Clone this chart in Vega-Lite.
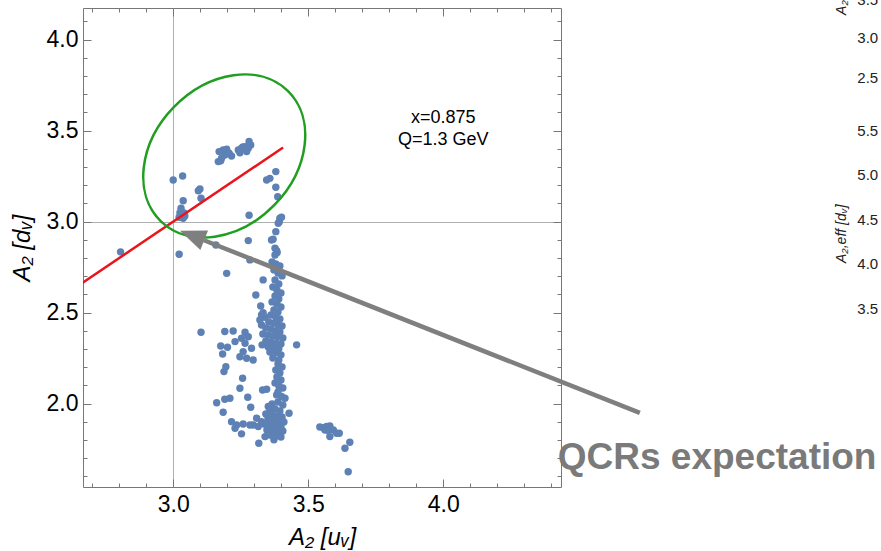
{
  "$schema": "https://vega.github.io/schema/vega-lite/v6.json",
  "width": 478,
  "height": 479,
  "autosize": "none",
  "padding": {"left": 83, "top": 8, "right": 320, "bottom": 64},
  "background": "white",
  "config": {
    "font": "Liberation Sans",
    "view": {"stroke": "#777777", "strokeWidth": 1}
  },
  "resolve": {"axis": {"x": "independent", "y": "independent"}},
  "datasets": {
    "pts": [
      {"u": 3.170, "d": 3.385}, {"u": 3.185, "d": 3.394}, {"u": 3.198, "d": 3.398}, {"u": 3.207, "d": 3.376},
      {"u": 3.216, "d": 3.361}, {"u": 3.191, "d": 3.366}, {"u": 3.179, "d": 3.348}, {"u": 3.167, "d": 3.330},
      {"u": 3.176, "d": 3.335}, {"u": 3.199, "d": 3.383}, {"u": 3.241, "d": 3.394}, {"u": 3.253, "d": 3.403},
      {"u": 3.266, "d": 3.412}, {"u": 3.281, "d": 3.440}, {"u": 3.287, "d": 3.421}, {"u": 3.272, "d": 3.385},
      {"u": 3.278, "d": 3.403}, {"u": 3.247, "d": 3.379}, {"u": 3.258, "d": 3.410},
      {"u": 3.000, "d": 3.229}, {"u": 3.035, "d": 3.251}, {"u": 3.093, "d": 3.170}, {"u": 3.099, "d": 3.180},
      {"u": 3.103, "d": 3.129}, {"u": 3.037, "d": 3.115}, {"u": 3.029, "d": 3.074}, {"u": 3.025, "d": 3.049},
      {"u": 3.031, "d": 3.037}, {"u": 3.043, "d": 3.031}, {"u": 3.037, "d": 3.019}, {"u": 3.022, "d": 3.024},
      {"u": 3.040, "d": 3.048}, {"u": 2.805, "d": 2.834}, {"u": 3.022, "d": 2.821}, {"u": 3.281, "d": 3.035},
      {"u": 3.278, "d": 2.896}, {"u": 3.158, "d": 2.872},
      {"u": 3.346, "d": 3.229}, {"u": 3.358, "d": 3.238}, {"u": 3.380, "d": 3.275}, {"u": 3.380, "d": 3.189},
      {"u": 3.387, "d": 3.137}, {"u": 3.395, "d": 3.019}, {"u": 3.401, "d": 3.024}, {"u": 3.393, "d": 3.000},
      {"u": 3.389, "d": 2.991}, {"u": 3.380, "d": 2.945}, {"u": 3.370, "d": 2.903}, {"u": 3.364, "d": 2.899},
      {"u": 3.377, "d": 2.854}, {"u": 3.383, "d": 2.841}, {"u": 3.385, "d": 2.830}, {"u": 3.377, "d": 2.817},
      {"u": 3.284, "d": 2.790}, {"u": 3.198, "d": 2.716}, {"u": 3.333, "d": 2.680}, {"u": 3.306, "d": 2.597},
      {"u": 3.324, "d": 2.537}, {"u": 3.327, "d": 2.487}, {"u": 3.340, "d": 2.475}, {"u": 3.333, "d": 2.500},
      {"u": 3.321, "d": 2.460}, {"u": 3.327, "d": 2.432},
      {"u": 3.366, "d": 2.779}, {"u": 3.380, "d": 2.768}, {"u": 3.395, "d": 2.757}, {"u": 3.373, "d": 2.735},
      {"u": 3.388, "d": 2.718}, {"u": 3.403, "d": 2.702}, {"u": 3.377, "d": 2.680}, {"u": 3.391, "d": 2.658},
      {"u": 3.369, "d": 2.641}, {"u": 3.384, "d": 2.625}, {"u": 3.399, "d": 2.608}, {"u": 3.377, "d": 2.592},
      {"u": 3.391, "d": 2.575}, {"u": 3.366, "d": 2.559}, {"u": 3.384, "d": 2.548}, {"u": 3.399, "d": 2.531},
      {"u": 3.373, "d": 2.515}, {"u": 3.388, "d": 2.504}, {"u": 3.362, "d": 2.487}, {"u": 3.380, "d": 2.476},
      {"u": 3.395, "d": 2.465}, {"u": 3.354, "d": 2.449}, {"u": 3.373, "d": 2.443}, {"u": 3.388, "d": 2.432},
      {"u": 3.403, "d": 2.427}, {"u": 3.343, "d": 2.416}, {"u": 3.362, "d": 2.410}, {"u": 3.380, "d": 2.399},
      {"u": 3.395, "d": 2.394}, {"u": 3.332, "d": 2.383}, {"u": 3.351, "d": 2.377}, {"u": 3.369, "d": 2.372},
      {"u": 3.388, "d": 2.366}, {"u": 3.406, "d": 2.361}, {"u": 3.343, "d": 2.344}, {"u": 3.362, "d": 2.339},
      {"u": 3.380, "d": 2.333}, {"u": 3.399, "d": 2.328}, {"u": 3.329, "d": 2.323}, {"u": 3.351, "d": 2.312},
      {"u": 3.373, "d": 2.306}, {"u": 3.391, "d": 2.301}, {"u": 3.358, "d": 2.284}, {"u": 3.380, "d": 2.279},
      {"u": 3.399, "d": 2.268}, {"u": 3.369, "d": 2.251}, {"u": 3.391, "d": 2.240},
      {"u": 3.103, "d": 2.392}, {"u": 3.191, "d": 2.396}, {"u": 3.222, "d": 2.399}, {"u": 3.266, "d": 2.392},
      {"u": 3.176, "d": 2.317}, {"u": 3.201, "d": 2.310}, {"u": 3.183, "d": 2.273}, {"u": 3.229, "d": 2.341},
      {"u": 3.253, "d": 2.359}, {"u": 3.278, "d": 2.368}, {"u": 3.266, "d": 2.332}, {"u": 3.290, "d": 2.304},
      {"u": 3.259, "d": 2.286}, {"u": 3.247, "d": 2.258}, {"u": 3.272, "d": 2.249}, {"u": 3.296, "d": 2.240},
      {"u": 3.457, "d": 2.323},
      {"u": 3.388, "d": 2.218}, {"u": 3.403, "d": 2.202}, {"u": 3.380, "d": 2.185}, {"u": 3.395, "d": 2.169},
      {"u": 3.384, "d": 2.147}, {"u": 3.399, "d": 2.130}, {"u": 3.377, "d": 2.114}, {"u": 3.391, "d": 2.097},
      {"u": 3.406, "d": 2.086},
      {"u": 3.195, "d": 2.203}, {"u": 3.188, "d": 2.176}, {"u": 3.257, "d": 2.140}, {"u": 3.247, "d": 2.085},
      {"u": 3.331, "d": 2.075}, {"u": 3.346, "d": 2.079}, {"u": 3.276, "d": 2.035}, {"u": 3.161, "d": 2.005},
      {"u": 3.191, "d": 2.024}, {"u": 3.210, "d": 2.030}, {"u": 3.185, "d": 1.953}, {"u": 3.287, "d": 1.980},
      {"u": 3.429, "d": 1.947},
      {"u": 3.383, "d": 2.048}, {"u": 3.401, "d": 2.039}, {"u": 3.414, "d": 2.030}, {"u": 3.388, "d": 2.064},
      {"u": 3.352, "d": 1.984}, {"u": 3.366, "d": 1.998}, {"u": 3.388, "d": 2.009}, {"u": 3.406, "d": 1.993},
      {"u": 3.358, "d": 1.965}, {"u": 3.377, "d": 1.971}, {"u": 3.395, "d": 1.960}, {"u": 3.343, "d": 1.943},
      {"u": 3.366, "d": 1.938}, {"u": 3.384, "d": 1.932}, {"u": 3.403, "d": 1.927}, {"u": 3.351, "d": 1.916},
      {"u": 3.373, "d": 1.910}, {"u": 3.391, "d": 1.905}, {"u": 3.410, "d": 1.899}, {"u": 3.336, "d": 1.888},
      {"u": 3.358, "d": 1.883}, {"u": 3.380, "d": 1.877}, {"u": 3.399, "d": 1.872}, {"u": 3.347, "d": 1.855},
      {"u": 3.366, "d": 1.850}, {"u": 3.388, "d": 1.844}, {"u": 3.406, "d": 1.850}, {"u": 3.358, "d": 1.828},
      {"u": 3.380, "d": 1.822}, {"u": 3.399, "d": 1.817}, {"u": 3.373, "d": 1.801},
      {"u": 3.216, "d": 1.901}, {"u": 3.235, "d": 1.883}, {"u": 3.259, "d": 1.888}, {"u": 3.229, "d": 1.865},
      {"u": 3.253, "d": 1.834}, {"u": 3.296, "d": 1.883}, {"u": 3.309, "d": 1.920}, {"u": 3.327, "d": 1.901},
      {"u": 3.315, "d": 1.874}, {"u": 3.317, "d": 1.782}, {"u": 3.340, "d": 1.819}, {"u": 3.284, "d": 1.883},
      {"u": 3.556, "d": 1.868}, {"u": 3.568, "d": 1.874}, {"u": 3.580, "d": 1.877}, {"u": 3.562, "d": 1.855},
      {"u": 3.574, "d": 1.852}, {"u": 3.593, "d": 1.855}, {"u": 3.605, "d": 1.837}, {"u": 3.615, "d": 1.837},
      {"u": 3.580, "d": 1.819}, {"u": 3.636, "d": 1.755}, {"u": 3.654, "d": 1.788}, {"u": 3.648, "d": 1.626},
      {"u": 3.543, "d": 1.872}
    ],
    "diag": [{"u": 2.6, "d": 2.6}, {"u": 3.407, "d": 3.407}],
    "ring": [{"u": 3.189, "d": 3.361}],
    "shaft": [{"u": 4.728, "d": 1.949}, {"u": 3.114, "d": 2.898}],
    "head": [{"u": 3.070, "d": 2.924}],
    "notes": [
      {"u": 4.0, "d": 3.57, "t": "x=0.875"},
      {"u": 4.0, "d": 3.449, "t": "Q=1.3 GeV"}
    ],
    "callout": [{"u": 5.014, "d": 1.641, "t": "QCRs expectation"}],
    "sideTicks": [
      {"u": 5.572, "d": 4.218, "t": "3.5"},
      {"u": 5.572, "d": 4.009, "t": "3.0"},
      {"u": 5.572, "d": 3.790, "t": "2.5"},
      {"u": 5.572, "d": 3.498, "t": "5.5"},
      {"u": 5.572, "d": 3.256, "t": "5.0"},
      {"u": 5.572, "d": 3.009, "t": "4.5"},
      {"u": 5.572, "d": 2.768, "t": "4.0"},
      {"u": 5.572, "d": 2.520, "t": "3.5"}
    ],
    "sideTitles": [
      {"u": 5.491, "d": 4.136, "t": "A₂ [uᵥ]"},
      {"u": 5.491, "d": 2.773, "t": "A₂,eff [dᵥ]"}
    ]
  },
  "layer": [
    {
      "data": {"name": "pts"},
      "mark": {"type": "circle", "size": 55, "color": "#5e81b5", "opacity": 1},
      "encoding": {
        "x": {
          "field": "u", "type": "quantitative",
          "scale": {"domain": [2.666, 4.436], "nice": false, "zero": false},
          "axis": {
            "orient": "bottom",
            "values": [2.7, 2.8, 2.9, 3, 3.1, 3.2, 3.3, 3.4, 3.5, 3.6, 3.7, 3.8, 3.9, 4, 4.1, 4.2, 4.3, 4.4],
            "labelExpr": "abs(datum.value * 2 - round(datum.value * 2)) < 0.001 ? format(datum.value, '.1f') : ''",
            "labelFont": "Liberation Sans", "labelFontSize": 23, "labelColor": "#000000",
            "labelPadding": 14, "labelOverlap": false, "labelFlush": false,
            "tickSize": {"condition": {"test": "abs(datum.value * 2 - round(datum.value * 2)) < 0.001", "value": -8}, "value": -4},
            "tickColor": "#777777", "tickWidth": 1,
            "domain": false,
            "grid": true, "gridColor": "#b0b0b0", "gridWidth": 1,
            "gridOpacity": {"condition": {"test": "abs(datum.value - 3) < 0.001", "value": 1}, "value": 0},
            "title": "A₂ [uᵥ]", "titleFont": "Liberation Sans", "titleFontSize": 24,
            "titleFontWeight": "normal", "titleFontStyle": "italic", "titleColor": "#000000", "titlePadding": 5
          }
        },
        "y": {
          "field": "d", "type": "quantitative",
          "scale": {"domain": [1.542, 4.174], "nice": false, "zero": false},
          "axis": {
            "orient": "left",
            "values": [1.6, 1.7, 1.8, 1.9, 2, 2.1, 2.2, 2.3, 2.4, 2.5, 2.6, 2.7, 2.8, 2.9, 3, 3.1, 3.2, 3.3, 3.4, 3.5, 3.6, 3.7, 3.8, 3.9, 4, 4.1],
            "labelExpr": "abs(datum.value * 2 - round(datum.value * 2)) < 0.001 ? format(datum.value, '.1f') : ''",
            "labelFont": "Liberation Sans", "labelFontSize": 23, "labelColor": "#000000",
            "labelPadding": 13, "labelOverlap": false, "labelFlush": false,
            "tickSize": {"condition": {"test": "abs(datum.value * 2 - round(datum.value * 2)) < 0.001", "value": -8}, "value": -4},
            "tickColor": "#777777", "tickWidth": 1,
            "domain": false,
            "grid": true, "gridColor": "#b0b0b0", "gridWidth": 1,
            "gridOpacity": {"condition": {"test": "abs(datum.value - 3) < 0.001", "value": 1}, "value": 0},
            "title": "A₂ [dᵥ]", "titleFont": "Liberation Sans", "titleFontSize": 24,
            "titleFontWeight": "normal", "titleFontStyle": "italic", "titleColor": "#000000", "titlePadding": 12
          }
        }
      }
    },
    {
      "data": {"name": "diag"},
      "mark": {"type": "line", "color": "#e8151b", "strokeWidth": 2.5, "clip": true},
      "encoding": {
        "x": {
          "field": "u", "type": "quantitative",
          "scale": {"domain": [2.666, 4.436], "nice": false, "zero": false},
          "axis": {
            "orient": "top",
            "values": [2.7, 2.8, 2.9, 3, 3.1, 3.2, 3.3, 3.4, 3.5, 3.6, 3.7, 3.8, 3.9, 4, 4.1, 4.2, 4.3, 4.4],
            "labels": false, "domain": false, "grid": false, "title": null,
            "tickSize": {"condition": {"test": "abs(datum.value * 2 - round(datum.value * 2)) < 0.001", "value": -8}, "value": -4},
            "tickColor": "#777777", "tickWidth": 1
          }
        },
        "y": {
          "field": "d", "type": "quantitative",
          "scale": {"domain": [1.542, 4.174], "nice": false, "zero": false},
          "axis": {
            "orient": "right",
            "values": [1.6, 1.7, 1.8, 1.9, 2, 2.1, 2.2, 2.3, 2.4, 2.5, 2.6, 2.7, 2.8, 2.9, 3, 3.1, 3.2, 3.3, 3.4, 3.5, 3.6, 3.7, 3.8, 3.9, 4, 4.1],
            "labels": false, "domain": false, "grid": false, "title": null,
            "tickSize": {"condition": {"test": "abs(datum.value * 2 - round(datum.value * 2)) < 0.001", "value": -8}, "value": -4},
            "tickColor": "#777777", "tickWidth": 1
          }
        }
      }
    },
    {
      "data": {"name": "ring"},
      "mark": {
        "type": "point",
        "shape": "M -1 0 A 1 0.771 0 1 0 1 0 A 1 0.771 0 1 0 -1 0 Z",
        "filled": false, "color": "#1f9e1f", "strokeWidth": 2.5, "opacity": 1,
        "size": 33124, "angle": -45.7
      },
      "encoding": {
        "x": {"field": "u", "type": "quantitative", "scale": {"domain": [2.666, 4.436], "nice": false, "zero": false}, "axis": null},
        "y": {"field": "d", "type": "quantitative", "scale": {"domain": [1.542, 4.174], "nice": false, "zero": false}, "axis": null}
      }
    },
    {
      "data": {"name": "shaft"},
      "mark": {"type": "line", "color": "#7f7f7f", "strokeWidth": 4.5, "strokeCap": "butt"},
      "encoding": {
        "x": {"field": "u", "type": "quantitative", "scale": {"domain": [2.666, 4.436], "nice": false, "zero": false}, "axis": null},
        "y": {"field": "d", "type": "quantitative", "scale": {"domain": [1.542, 4.174], "nice": false, "zero": false}, "axis": null}
      }
    },
    {
      "data": {"name": "head"},
      "mark": {
        "type": "point",
        "shape": "M -1 0 L 1 -0.8 L 1 0.8 Z",
        "filled": true, "color": "#7f7f7f", "opacity": 1, "strokeWidth": 0,
        "size": 676, "angle": 21.6
      },
      "encoding": {
        "x": {"field": "u", "type": "quantitative", "scale": {"domain": [2.666, 4.436], "nice": false, "zero": false}, "axis": null},
        "y": {"field": "d", "type": "quantitative", "scale": {"domain": [1.542, 4.174], "nice": false, "zero": false}, "axis": null}
      }
    },
    {
      "data": {"name": "notes"},
      "mark": {"type": "text", "font": "Liberation Sans", "fontSize": 18, "color": "#000000", "align": "center", "baseline": "middle"},
      "encoding": {
        "x": {"field": "u", "type": "quantitative", "scale": {"domain": [2.666, 4.436], "nice": false, "zero": false}, "axis": null},
        "y": {"field": "d", "type": "quantitative", "scale": {"domain": [1.542, 4.174], "nice": false, "zero": false}, "axis": null},
        "text": {"field": "t"}
      }
    },
    {
      "data": {"name": "callout"},
      "mark": {"type": "text", "font": "Liberation Sans", "fontSize": 37, "fontWeight": "bold", "color": "#7a7a7a", "align": "center", "baseline": "alphabetic"},
      "encoding": {
        "x": {"field": "u", "type": "quantitative", "scale": {"domain": [2.666, 4.436], "nice": false, "zero": false}, "axis": null},
        "y": {"field": "d", "type": "quantitative", "scale": {"domain": [1.542, 4.174], "nice": false, "zero": false}, "axis": null},
        "text": {"field": "t"}
      }
    },
    {
      "data": {"name": "sideTicks"},
      "mark": {"type": "text", "font": "Liberation Sans", "fontSize": 15, "color": "#222222", "align": "center", "baseline": "middle"},
      "encoding": {
        "x": {"field": "u", "type": "quantitative", "scale": {"domain": [2.666, 4.436], "nice": false, "zero": false}, "axis": null},
        "y": {"field": "d", "type": "quantitative", "scale": {"domain": [1.542, 4.174], "nice": false, "zero": false}, "axis": null},
        "text": {"field": "t"}
      }
    },
    {
      "data": {"name": "sideTitles"},
      "mark": {"type": "text", "font": "Liberation Sans", "fontSize": 14, "fontStyle": "italic", "color": "#222222", "align": "left", "baseline": "alphabetic", "angle": 270},
      "encoding": {
        "x": {"field": "u", "type": "quantitative", "scale": {"domain": [2.666, 4.436], "nice": false, "zero": false}, "axis": null},
        "y": {"field": "d", "type": "quantitative", "scale": {"domain": [1.542, 4.174], "nice": false, "zero": false}, "axis": null},
        "text": {"field": "t"}
      }
    }
  ]
}
